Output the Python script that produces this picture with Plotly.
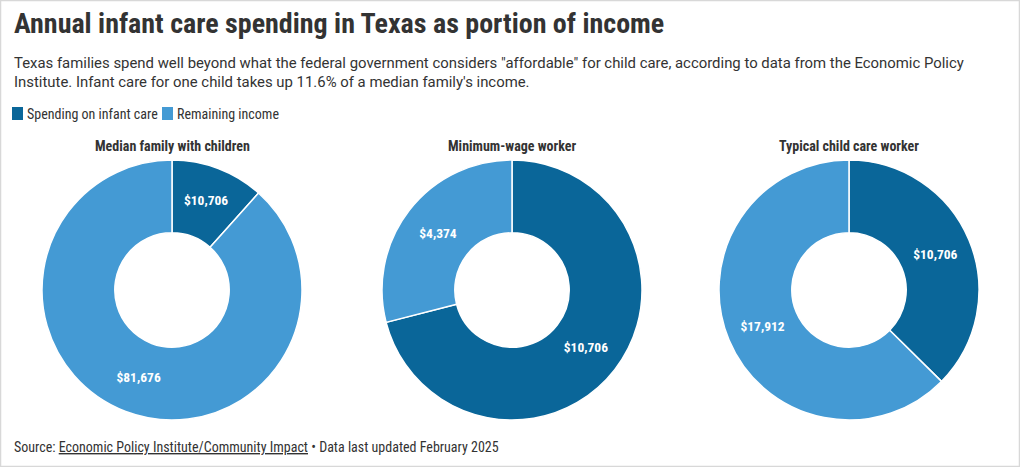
import plotly.graph_objects as go

W, H = 1020, 467

labels = ["Spending on infant care", "Remaining income"]
groups = ["Median family with children", "Minimum-wage worker", "Typical child care worker"]
spending = [10706, 10706, 10706]
remaining = [81676, 4374, 17912]

colors = ["#0a6699", "#449ad4"]
COND = "Roboto Condensed, Liberation Sans Narrow, DejaVu Sans Condensed, Roboto, sans-serif"
REG = "Roboto, sans-serif"
TXT = "#333333"

centers_x = [172, 512, 849]
cy = 290
R = 130

fig = go.Figure()
for i, g in enumerate(groups):
    cx = centers_x[i]
    fig.add_trace(go.Pie(
        labels=labels,
        values=[spending[i], remaining[i]],
        name=g,
        hole=0.44,
        sort=False,
        direction="clockwise",
        rotation=0,
        marker=dict(colors=colors, line=dict(color="white", width=1.5)),
        texttemplate="$%{value:,.0f}",
        textposition="inside",
        insidetextorientation="horizontal",
        textfont=dict(family=COND, size=13.5, color="white", weight="bold"),
        domain=dict(x=[(cx - R) / W, (cx + R) / W], y=[1 - (cy + R) / H, 1 - (cy - R) / H]),
        showlegend=False,
        hoverinfo="label+value+percent",
    ))
    fig.add_annotation(x=cx / W, y=1 - 146 / H, xref="paper", yref="paper",
                       text=f"<b>{g}</b>", showarrow=False, xanchor="center", yanchor="middle",
                       font=dict(family=COND, size=14, color=TXT))

# legend (drawn manually for compact swatches)
legend_x = [12, 162]
for lx, lab, col in zip(legend_x, labels, colors):
    fig.add_shape(type="rect", xref="paper", yref="paper",
                  x0=lx / W, x1=(lx + 11) / W, y0=1 - 120 / H, y1=1 - 107 / H,
                  line=dict(width=0), fillcolor=col)
    fig.add_annotation(x=(lx + 13) / W, y=1 - 114 / H, xref="paper", yref="paper",
                       xanchor="left", yanchor="middle", showarrow=False, text=lab,
                       font=dict(family=COND, size=14, color=TXT))

fig.add_annotation(x=12 / W, y=1 - 24 / H, xref="paper", yref="paper", xanchor="left", yanchor="middle",
                   text="<b>Annual infant care spending in Texas as portion of income</b>", showarrow=False,
                   font=dict(family=COND, size=28, color=TXT))
fig.add_annotation(x=12 / W, y=1 - 73 / H, xref="paper", yref="paper", xanchor="left", yanchor="middle",
                   align="left", showarrow=False,
                   text=("Texas families spend well beyond what the federal government considers \"affordable\" for child care, according to data from the Economic Policy<br>"
                         "Institute. Infant care for one child takes up 11.6% of a median family's income."),
                   font=dict(family=REG, size=14.9, color=TXT))
fig.add_annotation(x=12 / W, y=1 - 447 / H, xref="paper", yref="paper", xanchor="left", yanchor="middle",
                   showarrow=False,
                   text="Source: <u>Economic Policy Institute/Community Impact</u> • Data last updated February 2025",
                   font=dict(family=COND, size=14, color=TXT))

fig.add_shape(type="rect", xref="paper", yref="paper", x0=0.5 / W, x1=1 - 0.5 / W, y0=0.5 / H, y1=1 - 0.5 / H,
              line=dict(color="#d8d8d8", width=1.5), fillcolor="rgba(0,0,0,0)")

fig.update_layout(
    width=W, height=H,
    margin=dict(l=0, r=0, t=0, b=0),
    paper_bgcolor="white",
    plot_bgcolor="white",
    showlegend=False,
)

fig.write_html("out.html", config={"displayModeBar": False},
               post_script="document.body.style.margin='0';")
